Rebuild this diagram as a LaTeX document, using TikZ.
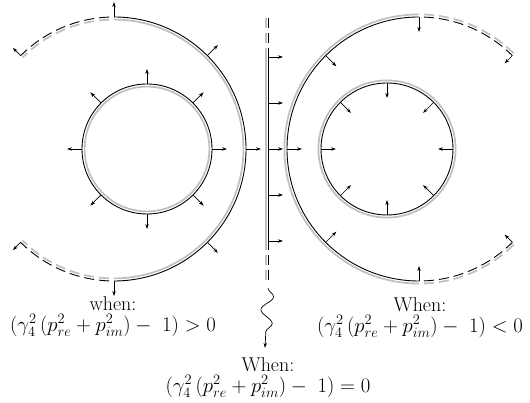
\documentclass[tikz,border=0pt]{standalone}
\usepackage{amsmath}
\usetikzlibrary{positioning,arrows.meta,calc,decorations.pathmorphing}
\tikzset{
  blk/.style={black, line width=0.9pt},
  gry/.style={gray!50, line width=1.7pt},
  dsh/.style={dash pattern=on 10pt off 5pt, dash phase=10pt},
  nrm/.style={-{Stealth[length=5pt,width=3.4pt]}, line width=0.7pt},
  lbl/.style={font=\fontsize{20}{22}\selectfont, inner sep=0pt},
  wavy/.style={-{Stealth[length=5pt,width=3.4pt]}, line width=0.7pt, decorate, decoration={snake, amplitude=6pt, segment length=27pt, post length=5pt}},
}
\begin{document}
\begin{tikzpicture}[x=1pt,y=1pt,node distance=3pt]
\useasboundingbox (0,0) rectangle (530,403);
\coordinate (LI) at (147,254); \coordinate (LO) at (114,254);
\coordinate (RI) at (387,254); \coordinate (RO) at (419,254);
% left side, normals pointing outwards
\draw[gry] (LI) circle (62.4); \draw[blk] (LI) circle (65);
\foreach \a in {0,45,...,315} \draw[nrm] ($(LI)+(\a:65)$) -- ($(LI)+(\a:80)$);
\draw[gry] ($(LO)+(90:129.4)$) arc (90:-90:129.4); \draw[blk] ($(LO)+(90:132)$) arc (90:-90:132);
\draw[gry, dsh] ($(LO)+(90:129.4)$) arc (90:135:129.4); \draw[blk, dsh] ($(LO)+(90:132)$) arc (90:135:132);
\draw[gry, dsh] ($(LO)+(-90:129.4)$) arc (-90:-135:129.4); \draw[blk, dsh] ($(LO)+(-90:132)$) arc (-90:-135:132);
\foreach \a in {-90,-45,...,90} \draw[nrm] ($(LO)+(\a:132)$) -- ($(LO)+(\a:147)$);
\foreach \a in {135,-135} \draw[nrm] ($(LO)+(\a:132)$) -- ($(LO)+(\a:143)$);
% right side, normals pointing inwards
\draw[gry] (RI) circle (68.6); \draw[blk] (RI) circle (66);
\foreach \a in {0,45,...,315} \draw[nrm] ($(RI)+(\a:66)$) -- ($(RI)+(\a:51)$);
\draw[gry] ($(RO)+(90:134.6)$) arc (90:270:134.6); \draw[blk] ($(RO)+(90:132)$) arc (90:270:132);
\draw[gry, dsh] ($(RO)+(90:134.6)$) arc (90:45:134.6); \draw[blk, dsh] ($(RO)+(90:132)$) arc (90:45:132);
\draw[gry, dsh] ($(RO)+(-90:134.6)$) arc (-90:-45:134.6); \draw[blk, dsh] ($(RO)+(-90:132)$) arc (-90:-45:132);
\foreach \a in {90,135,...,270} \draw[nrm] ($(RO)+(\a:132)$) -- ($(RO)+(\a:117)$);
\foreach \a in {45,-45} \draw[nrm] ($(RO)+(\a:132)$) -- ($(RO)+(\a:121)$);
% flat boundary in the middle
\draw[gry, line width=2.4pt] (266,153) -- (266,355); \draw[blk] (268.3,153) -- (268.3,355);
\draw[gry, dsh, line width=2.4pt] (266,355) -- (266,386); \draw[blk, dsh] (268.3,355) -- (268.3,386);
\draw[gry, dsh, line width=2.4pt] (266,153) -- (266,123); \draw[blk, dsh] (268.3,153) -- (268.3,123);
\foreach \y in {162,208,...,346} \draw[nrm] (268.3,\y) -- (283,\y);
% labels
\node[lbl, anchor=base] (gtrw) at (113,92) {when:};
\node[lbl, below=of gtrw] (gtr) {$(\gamma_4^2\,(p_{re}^2+p_{im}^2)-\ 1)>0$};
\node[lbl, anchor=base] (lssw) at (420,91) {When:};
\node[lbl, below=of lssw] (lss) {$(\gamma_4^2\,(p_{re}^2+p_{im}^2)-\ 1)<0$};
\node[lbl, anchor=base] (eqlw) at (268,31) {When:};
\node[lbl, below=of eqlw] (eql) {$(\gamma_4^2\,(p_{re}^2+p_{im}^2)-\ 1)=0$};
\coordinate (wtop) at (268,115); \coordinate (wbot) at (265,55);
\draw[wavy] (wtop) -- (wbot);
\end{tikzpicture}
\end{document}
